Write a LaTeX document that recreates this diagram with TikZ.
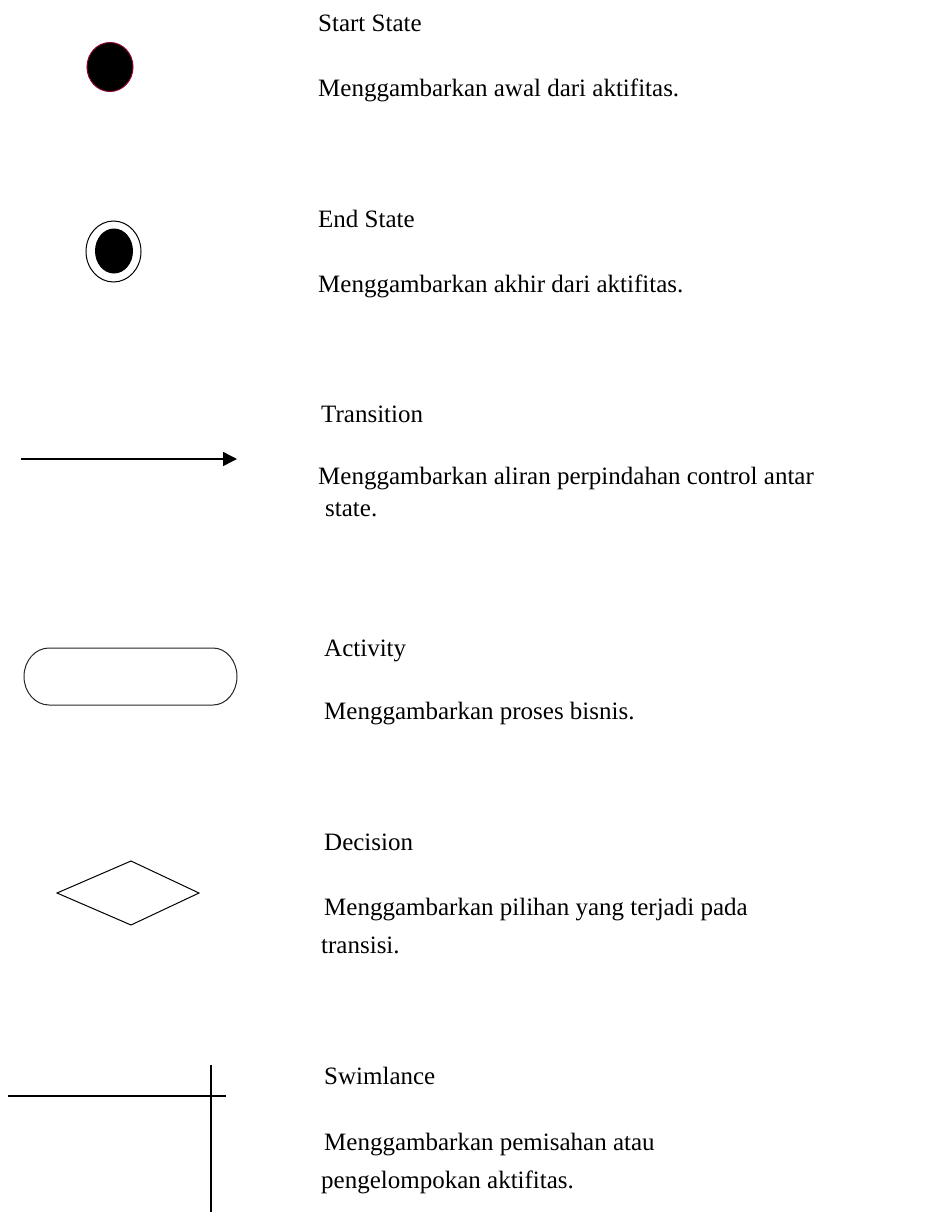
\documentclass[tikz,border=0pt]{standalone}
\usepackage{fontspec}
\setmainfont{Liberation Serif}
\usetikzlibrary{shapes.geometric,arrows.meta}
\definecolor{startred}{RGB}{140,0,50}
\begin{document}
\begin{tikzpicture}[x=1pt,y=-1pt,
  txt/.style={anchor=base west,inner sep=0pt,font=\fontsize{25}{30}\selectfont},
  thin line/.style={line width=1pt},
  thick line/.style={line width=1.5pt}]
\useasboundingbox (0,0) rectangle (924,1212);
% Start state
\node[ellipse, draw=startred, fill=black, line width=1pt, minimum width=46, minimum height=49, inner sep=0pt] (start) at (110,67) {};
\node[txt] (t1) at (318,32) {Start State};
\node[txt] (d1) at (318,97) {Menggambarkan awal dari aktifitas.};
% End state
\node[ellipse, draw, thin line, minimum width=55, minimum height=61, inner sep=0pt] (endo) at (113.5,251.5) {};
\node[ellipse, fill=black, minimum width=38, minimum height=45, inner sep=0pt] (endi) at (114,251) {};
\node[txt] (t2) at (318,227) {End State};
\node[txt] (d2) at (318,292) {Menggambarkan akhir dari aktifitas.};
% Transition
\coordinate (ta) at (21,459);
\coordinate (tb) at (237,459);
\draw[thick line, -{Triangle[length=14pt,width=14pt]}] (ta) -- (tb);
\node[txt] (t3) at (321,422) {Transition};
\node[txt] (d3) at (318,484) {Menggambarkan aliran perpindahan control antar};
\node[txt] (d3b) at (325,516) {state.};
% Activity
\draw[thin line, draw=black!85] (49,648) -- (213,648) .. controls (226.3,648) and (237,660.8) .. (237,676.5) .. controls (237,692.2) and (226.3,705) .. (213,705) -- (49,705) .. controls (35.2,705) and (24,692.2) .. (24,676.5) .. controls (24,660.8) and (35.2,648) .. (49,648) -- cycle;
\node[txt] (t4) at (324,656) {Activity};
\node[txt] (d4) at (324,719) {Menggambarkan proses bisnis.};
% Decision
\draw[thin line] (57,893) -- (131,861) -- (199,893) -- (131,925) -- cycle;
\node[txt] (t5) at (324,850) {Decision};
\node[txt] (d5) at (324,915) {Menggambarkan pilihan yang terjadi pada};
\node[txt] (d5b) at (321,953) {transisi.};
% Swimlane
\draw[thick line] (8,1096) -- (226,1096);
\draw[thick line] (211,1065) -- (211,1212);
\node[txt] (t6) at (324,1084) {Swimlance};
\node[txt] (d6) at (324,1150) {Menggambarkan pemisahan atau};
\node[txt] (d6b) at (321,1188) {pengelompokan aktifitas.};
\end{tikzpicture}
\end{document}
